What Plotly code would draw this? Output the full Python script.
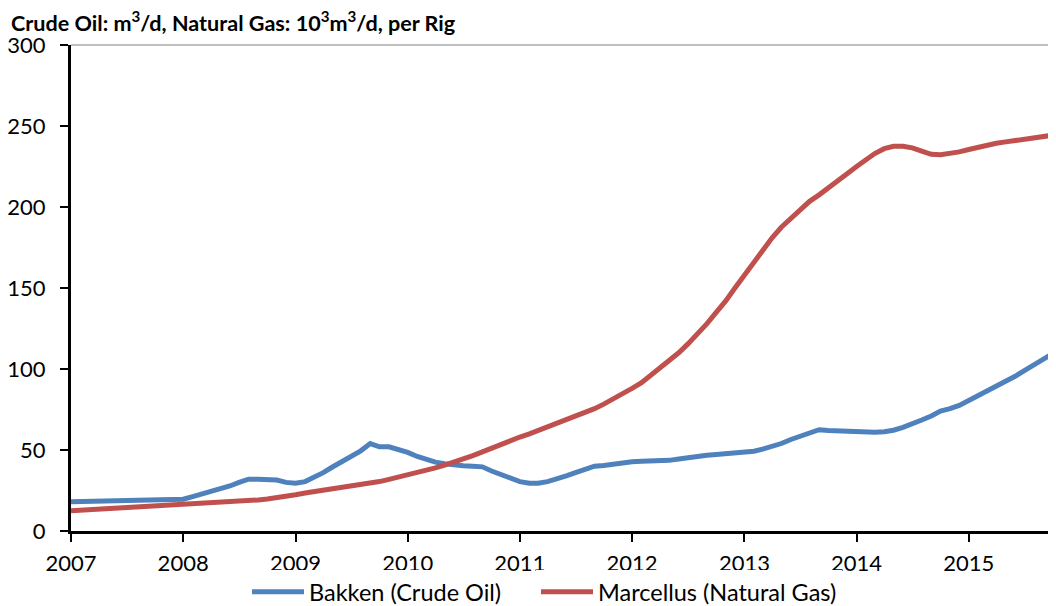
import pandas as pd
import plotly.graph_objects as go

# monthly dates, Jan 2007 .. Oct 2015
months = pd.date_range("2007-01-01", periods=106, freq="MS")

bakken = [
    18.0, 18.2, 18.3, 18.4, 18.5, 18.6, 18.7, 18.8, 19.0, 19.1, 19.2, 19.4,
    19.6, 21.2, 22.8, 24.3, 25.8, 27.8, 30.0, 32.0, 32.0, 32.0, 31.5, 30.0,
    29.5, 30.5, 33.0, 36.0, 39.5, 43.0, 46.5, 49.5, 54.0, 52.0, 52.0, 50.5,
    48.5, 46.0, 44.0, 42.5, 41.5, 40.7, 40.3, 40.0, 39.6, 37.0, 34.8, 32.5,
    30.5, 29.5, 29.5, 30.5, 32.0, 34.0, 36.0, 38.0, 40.0, 40.5, 41.5, 42.3,
    42.8, 43.0, 43.2, 43.3, 43.6, 44.5, 45.5, 46.2, 46.8, 47.2, 47.6, 48.0,
    48.5, 49.2, 50.5, 52.0, 54.0, 56.5, 58.5, 60.3, 62.5, 62.0, 61.7, 61.5,
    61.2, 61.0, 61.0, 61.3, 62.2, 64.0, 66.0, 68.5, 71.0, 74.0, 75.5, 77.5,
    80.5, 83.5, 86.5, 89.0, 92.0, 95.5, 99.0, 102.5, 106.0, 109.5,
]

marcellus = [
    12.5, 12.8, 13.1, 13.4, 13.7, 14.0, 14.3, 14.6, 14.9, 15.2, 15.5, 15.8,
    16.1, 16.4, 16.7, 17.0, 17.4, 17.8, 18.2, 18.7, 19.2, 19.8, 20.5, 21.4,
    22.4, 23.5, 24.3, 25.0, 25.6, 26.3, 27.2, 28.2, 29.3, 30.5, 31.9, 33.2,
    34.6, 36.0, 37.5, 39.0, 40.6, 42.4, 44.3, 46.5, 48.8, 51.2, 53.8, 56.2,
    58.0, 60.0, 62.0, 64.0, 66.2, 68.5, 70.7, 73.0, 75.5, 78.3, 81.3, 84.5,
    88.0, 91.5, 96.0, 100.5, 105.0, 110.0, 115.5, 121.5, 128.0, 135.0, 142.0, 150.0,
    158.0, 166.0, 174.0, 181.0, 187.5, 193.0, 198.0, 203.5, 207.5, 211.5, 216.0, 220.5,
    225.0, 229.0, 233.0, 236.0, 237.5, 237.5, 236.5, 234.5, 232.5, 232.3, 232.8, 234.0,
    235.5, 237.0, 238.3, 239.3, 240.2, 241.0, 241.8, 242.6, 243.4, 244.3,
]

FONT = "Lato, Open Sans, sans-serif"

# page body has an 8px margin, so the figure is 8px smaller than the window
W, H = 1048, 598

fig = go.Figure()
fig.add_trace(go.Scatter(x=months, y=bakken, mode="lines", name="Bakken (Crude Oil)",
                         line=dict(color="#4F81BD", width=5), legend="legend"))
fig.add_trace(go.Scatter(x=months, y=marcellus, mode="lines", name="Marcellus (Natural Gas)",
                         line=dict(color="#C0504D", width=5), legend="legend2"))

legend_style = dict(orientation="h", xref="container", xanchor="left",
                    yref="container", y=1 - 584 / H, yanchor="middle",
                    font=dict(size=23.5), itemwidth=52)

fig.update_layout(
    width=W, height=H,
    margin=dict(l=63, r=0, t=37, b=75),
    paper_bgcolor="white", plot_bgcolor="white",
    font=dict(family=FONT, size=22, color="black"),
    title=dict(text="<b>Crude Oil: m<sup>3</sup>/d, Natural Gas: 10<sup>3</sup>m<sup>3</sup>/d, per Rig</b>",
               x=3 / W, xref="container", xanchor="left",
               y=1 - 15 / H, yref="container", yanchor="middle",
               font=dict(family=FONT, size=21.6)),
    legend=dict(x=239 / W, **legend_style),
    legend2=dict(x=528 / W, **legend_style),
    showlegend=True,
)

fig.update_xaxes(
    type="date", range=["2007-01-01", "2015-10-12"],
    dtick="M12", tick0="2007-01-01", tickformat="%Y",
    showgrid=False, zeroline=False, automargin=False,
    showline=True, linecolor="black", linewidth=3,
    ticks="outside", ticklen=8, tickwidth=2, tickcolor="black",
    ticklabelstandoff=3,
)
fig.update_yaxes(
    range=[0, 300], dtick=50,
    showgrid=False, zeroline=False, automargin=False,
    showline=True, linecolor="black", linewidth=3,
    ticks="outside", ticklen=8, tickwidth=2, tickcolor="black",
    ticklabelstandoff=10,
)
# thin grey frame line along the top of the plot area
fig.add_shape(type="line", xref="paper", yref="paper", x0=0, x1=1, y0=1, y1=1,
              line=dict(color="#808080", width=1))

fig.write_html("out.html")
